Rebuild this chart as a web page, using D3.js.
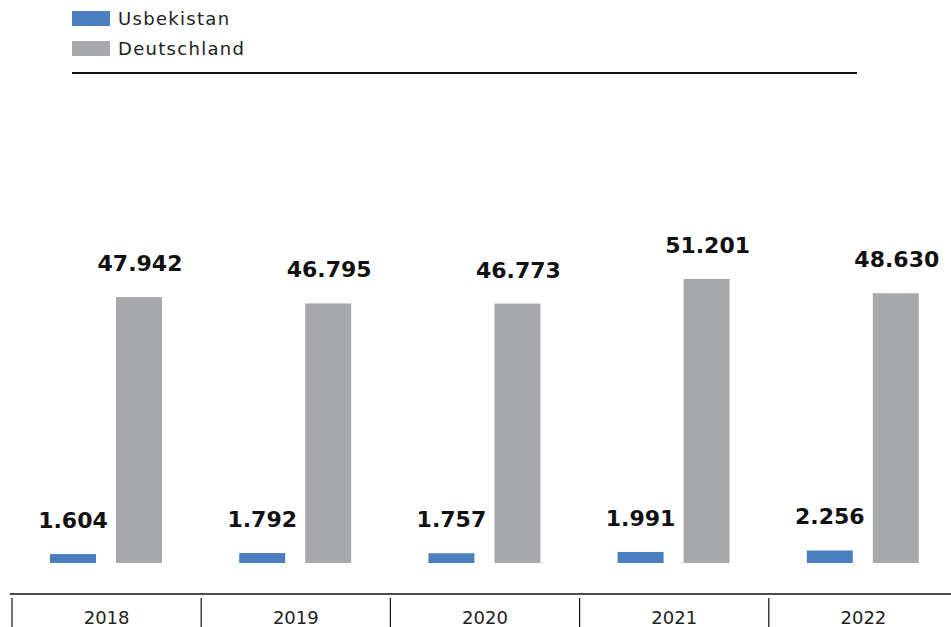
<!DOCTYPE html>
<html>
<head>
<meta charset="utf-8">
<script src="https://cdn.jsdelivr.net/npm/d3@7"></script>
<style>
  body { margin: 0; background: #fff; }
  svg { display: block; font-family: "DejaVu Sans", sans-serif; }
</style>
</head>
<body>
<div id="chart-area"></div>
<script>
const YEARS = ["2018", "2019", "2020", "2021", "2022"]
const USBEKISTAN = [1604, 1792, 1757, 1991, 2256]
const DEUTSCHLAND = [47942, 46795, 46773, 51201, 48630]
const SERIES_NAMES = ["Usbekistan", "Deutschland"]
const COLORS = ["#4a7ebf", "#a7a8ac"]

const SVG_WIDTH = 951
const SVG_HEIGHT = 627
const BASE_Y = 563

const fmt = d3.formatLocale({ decimal: ",", thousands: ".", grouping: [3] }).format(",")

const svg = d3.select("#chart-area").append("svg")
  .attr("width", SVG_WIDTH)
  .attr("height", SVG_HEIGHT)

// legend
const legend = svg.append("g")
SERIES_NAMES.forEach((name, i) => {
  legend.append("rect")
    .attr("x", 72).attr("y", 11 + i * 30)
    .attr("width", 38).attr("height", 15)
    .attr("fill", COLORS[i])
  legend.append("text")
    .attr("x", 118).attr("y", 25 + i * 30)
    .attr("font-size", "18px")
    .attr("letter-spacing", "1.3px")
    .attr("fill", "#222")
    .text(name)
})
svg.append("line")
  .attr("x1", 72).attr("x2", 857)
  .attr("y1", 73).attr("y2", 73)
  .attr("stroke", "#111").attr("stroke-width", 2)

// scales
const x = d3.scaleBand()
  .domain(YEARS)
  .range([12, 12 + 189.2 * YEARS.length])

const y = d3.scaleLinear()
  .domain([0, 51201])
  .range([BASE_Y, BASE_Y - 284])

const data = YEARS.map((yr, i) => ({ year: yr, values: [USBEKISTAN[i], DEUTSCHLAND[i]] }))
const BAR_W = 46
const OFFSETS = [38, 104]

const groups = svg.selectAll("g.grp")
  .data(data)
  .enter().append("g")
  .attr("class", "grp")
  .attr("transform", d => `translate(${x(d.year)}, 0)`)

groups.each(function (d) {
  const g = d3.select(this)
  d.values.forEach((v, i) => {
    g.append("rect")
      .attr("x", OFFSETS[i])
      .attr("y", y(v))
      .attr("width", BAR_W)
      .attr("height", BASE_Y - y(v))
      .attr("fill", COLORS[i])
    g.append("text")
      .attr("x", OFFSETS[i] + BAR_W / 2 + (i === 1 ? 1 : 0))
      .attr("y", y(v) - 26)
      .attr("text-anchor", "middle")
      .attr("font-size", "22px")
      .attr("font-weight", "bold")
      .attr("fill", "#111")
      .text(fmt(v))
  })
})

// x axis
const xAxis = svg.append("g")
xAxis.append("line")
  .attr("x1", 10).attr("x2", SVG_WIDTH)
  .attr("y1", 594).attr("y2", 594)
  .attr("stroke", "#111").attr("stroke-width", 1.5)
xAxis.selectAll("line.div")
  .data(YEARS)
  .enter().append("line")
  .attr("class", "div")
  .attr("x1", d => x(d)).attr("x2", d => x(d))
  .attr("y1", 598).attr("y2", SVG_HEIGHT)
  .attr("stroke", "#111").attr("stroke-width", 1.2)
xAxis.selectAll("text")
  .data(YEARS)
  .enter().append("text")
  .attr("x", d => x(d) + x.bandwidth() / 2)
  .attr("y", 624)
  .attr("text-anchor", "middle")
  .attr("font-size", "18px")
  .attr("fill", "#222")
  .text(d => d)
</script>
</body>
</html>
